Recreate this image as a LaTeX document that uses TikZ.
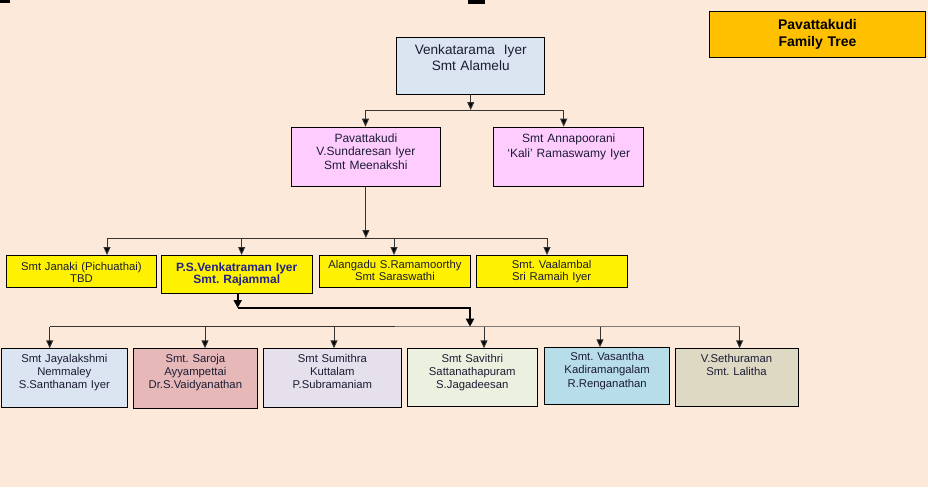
\documentclass[tikz,border=0pt]{standalone}
\usepackage{fontspec}
\setmainfont{Liberation Sans}
\usetikzlibrary{arrows.meta}
\frenchspacing
\definecolor{bg}{HTML}{FDE9D9}
\definecolor{gold}{HTML}{FFC000}
\definecolor{lblue}{HTML}{DBE5F1}
\definecolor{lpink}{HTML}{FFCCFF}
\definecolor{lred}{HTML}{E6B9B8}
\definecolor{lpurp}{HTML}{E5E0EC}
\definecolor{lolive}{HTML}{EBF1DE}
\definecolor{laqua}{HTML}{B7DEE8}
\definecolor{ltan}{HTML}{DDD9C3}
\definecolor{linec}{HTML}{333333}
\definecolor{linel}{HTML}{7A7A7A}
\definecolor{txt}{HTML}{1C1C34}
\definecolor{navy}{HTML}{22228A}
\tikzset{
  box/.style={draw=black, line width=0.8pt, inner sep=0pt, align=center, anchor=north west, text=txt},
  conn/.style={draw=linec, line width=1pt},
  arr/.style={conn, -{Triangle[length=8pt,width=7pt,fill=black]}},
  thick conn/.style={draw=black, line width=2.4pt},
  thick arr/.style={thick conn, -{Triangle[length=8pt,width=8pt]}},
}
\begin{document}
\begin{tikzpicture}[x=1pt,y=-1pt]
\useasboundingbox (0,0) rectangle (928,487);
\fill[bg] (0,0) rectangle (928,487);
\fill[black] (0,0) rectangle (10,3);
\fill[black] (468,0) rectangle (485,4);

% title
\node[box, fill=gold, text=black, text width=215.4pt, text height=18pt, text depth=28pt,
  font=\fontsize{14}{16.4}\selectfont\bfseries] (title) at (709.3,11.3) {Pavattakudi\\Family Tree};

% generation 1
\node[box, fill=lblue, text width=148pt, text height=17.6pt, text depth=40pt,
  font=\fontsize{13.6}{15.7}\selectfont] (root) at (396.3,36.7) {Venkatarama\ \ Iyer\\Smt Alamelu};

% generation 2
\node[box, fill=lpink, text width=149.6pt, text height=15pt, text depth=44.3pt,
  font=\fontsize{12}{13.8}\selectfont] (pav) at (290.7,126.7) {Pavattakudi\\V.Sundaresan Iyer\\Smt Meenakshi};
\node[box, fill=lpink, text width=150pt, text height=15pt, text depth=44.3pt,
  font=\fontsize{12}{15}\selectfont] (ann) at (493.3,126.7) {Smt Annapoorani\\‘Kali’ Ramaswamy Iyer};

% generation 3
\node[box, fill=yellow, text width=150pt, text height=15pt, text depth=17pt,
  font=\fontsize{11.3}{11.7}\selectfont] (jan) at (6,255) {Smt Janaki (Pichuathai)\\TBD};
\node[box, fill=yellow, text=navy, text width=150.7pt, text height=15.7pt, text depth=22.6pt,
  font=\fontsize{12}{12.8}\selectfont\bfseries] (psv) at (161,255) {P.S.Venkatraman Iyer\\Smt. Rajammal};
\node[box, fill=yellow, text width=151pt, text height=13pt, text depth=19pt,
  font=\fontsize{11.3}{12}\selectfont] (ala) at (319,255) {Alangadu S.Ramamoorthy\\Smt Saraswathi};
\node[box, fill=yellow, text width=151.5pt, text height=13pt, text depth=19pt,
  font=\fontsize{11.3}{12.5}\selectfont] (vaa) at (475.5,255) {Smt. Vaalambal\\Sri Ramaih Iyer};

% generation 4
\tikzset{rowfour/.style={box, text height=13.4pt, text depth=45pt, font=\fontsize{11.3}{13.3}\selectfont}}
\node[rowfour, fill=lblue, text width=125.4pt] (jay) at (1.2,348.3) {Smt Jayalakshmi\\Nemmaley\\S.Santhanam Iyer};
\node[rowfour, fill=lred, text width=124.9pt, text depth=46pt] (sar) at (132.5,348.3) {Smt. Saroja\\Ayyampettai\\Dr.S.Vaidyanathan};
\node[rowfour, fill=lpurp, text width=137.3pt] (sum) at (263.3,348.3) {Smt Sumithra\\Kuttalam\\P.Subramaniam};
\node[rowfour, fill=lolive, text width=130.8pt, text depth=44.6pt] (sav) at (406.5,348.3) {Smt Savithri\\Sattanathapuram\\S.Jagadeesan};
\node[rowfour, fill=laqua, text width=124.8pt, text height=12.7pt, text depth=44.3pt] (vas) at (544.4,347.3) {Smt. Vasantha\\Kadiramangalam\\R.Renganathan};
\node[rowfour, fill=ltan, text width=123pt, text depth=44.3pt] (set) at (674.6,348.3) {V.Sethuraman\\Smt. Lalitha};

% connectors gen1 -> gen2
\coordinate (b1) at (470,110);
\coordinate (b1l) at (365.5,110);
\coordinate (b1r) at (563.7,110);
\draw[conn] (b1l) -- (b1r);
\draw[arr] (root.south) -- (root.south |- b1);
\draw[arr] (b1l) -- (b1l |- pav.north);
\draw[arr] (b1r) -- (b1r |- ann.north);

% connectors gen2 -> gen3
\coordinate (b2) at (365,238);
\coordinate (b2a) at (107,238);
\coordinate (b2b) at (241.6,238);
\coordinate (b2c) at (394,238);
\coordinate (b2d) at (547,238);
\draw[conn] (b2a) -- (b2d);
\draw[arr] (pav.south) -- (pav.south |- b2);
\draw[arr] (b2a) -- (b2a |- jan.north);
\draw[arr] (b2b) -- (b2b |- psv.north);
\draw[arr] (b2c) -- (b2c |- ala.north);
\draw[arr] (b2d) -- (b2d |- vaa.north);

% connectors gen3 -> gen4
\coordinate (t1) at (237.7,308);
\coordinate (b3) at (470,326.7);
\coordinate (b3a) at (49.7,326.7);
\coordinate (b3b) at (205,326.7);
\coordinate (b3c) at (334,326.7);
\coordinate (b3m) at (395,326.7);
\coordinate (b3d) at (484,326.7);
\coordinate (b3e) at (600,326.7);
\coordinate (b3f) at (739.6,326.7);
\draw[conn] (b3a) -- (b3m);
\draw[draw=linel, line width=1pt] (b3m) -- (b3f);
\draw[arr] (b3a) -- (b3a |- jay.north);
\draw[arr] (b3b) -- (b3b |- sar.north);
\draw[arr] (b3c) -- (b3c |- sum.north);
\draw[arr] (b3d) -- (b3d |- sav.north);
\draw[arr] (b3e) -- (b3e |- vas.north);
\draw[arr] (b3f) -- (b3f |- set.north);
\draw[thick arr] (psv.south -| t1) -- (t1);
\draw[thick arr] (t1) -| (b3);
\end{tikzpicture}
\end{document}
